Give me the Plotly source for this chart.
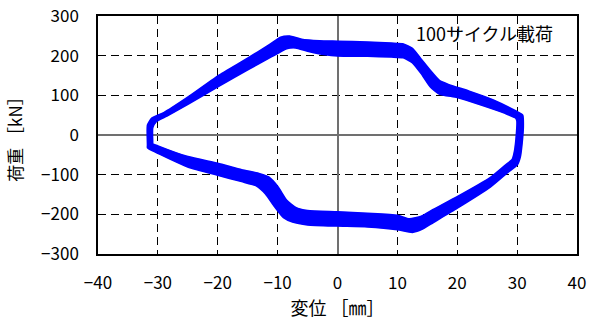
import plotly.graph_objects as go

# Hysteresis loop envelopes (displacement mm, load kN)
outer_x = [-31.7, -31.7, -31.0, -29.0, -25, -20, -15, -11.5, -9.5, -8, -6, -3, 0, 5, 9, 11, 12.5, 14, 15.5, 17, 18.5, 22, 26, 29.8, 30.9, 31.0, 30.8, 30.5, 30.0, 28.5, 25.5, 20, 16, 14, 12.5, 10, 5, 0, -5, -7.5, -9, -10.5, -12, -13.5, -16, -20, -25, -30.5, -31.7, -31.7]
outer_y = [-25, 25, 42, 56, 95, 148, 193, 226, 246, 249, 241, 237, 236, 234, 231, 229, 218, 190, 162, 137, 127, 110, 88, 60, 50, 20, -20, -55, -75, -93, -131, -184, -220, -238, -245, -238, -231, -229, -226, -219, -208, -180, -148, -128, -117, -101, -80, -42, -32, -25]

mid_x = [-31.3, -31.3, -30.6, -28.8, -25, -20, -15, -11.2, -9, -7.5, -5.5, -2.5, 0, 5, 9, 11, 12.5, 14, 15.5, 17, 19, 23, 27, 29.9, 30.5, 30.4, 30.2, 29.9, 29.3, 27.5, 25.5, 20, 16, 14, 12.3, 10, 5, 0, -5, -7.2, -8.8, -10.2, -11.8, -13.2, -16, -20, -25, -30.2, -31.3, -31.3]
mid_y = [-22, 22, 38, 52, 86, 135, 179, 212, 232, 234, 226, 220, 218, 216, 214, 212, 200, 172, 142, 120, 108, 90, 70, 52, 45, 10, -30, -58, -70, -88, -120, -170, -204, -221, -228, -220, -214, -211, -208, -201, -186, -155, -127, -113, -103, -86, -67, -35, -27, -22]

inner_x = [-30.9, -30.9, -30.3, -28.5, -25, -20, -15, -11, -8.5, -7, -5, -2, 0, 5, 9, 11, 12.5, 14, 15.5, 17, 20, 24, 28, 29.8, 30.0, 29.9, 29.6, 29.2, 28, 25.5, 20, 16, 14, 12, 10, 5, 0, -5, -7, -8.5, -10, -11.5, -13, -16, -20, -25, -30, -30.9, -30.9]
inner_y = [-18, 18, 34, 48, 78, 122, 165, 198, 218, 220, 212, 203, 200, 199, 197, 195, 183, 155, 122, 104, 95, 76, 55, 43, 35, 0, -40, -62, -77, -108, -156, -188, -205, -212, -203, -198, -194, -191, -183, -165, -130, -106, -98, -88, -72, -55, -28, -22, -18]

x_ticks = [-40, -30, -20, -10, 0, 10, 20, 30, 40]
y_ticks = [-300, -200, -100, 0, 100, 200, 300]

FONT = "Noto Sans CJK JP"
BLUE = "#0000FF"
SHAPE = dict(shape="spline", smoothing=0.5)

fig = go.Figure()
# band between first and last cycles (outer path then inner path reversed -> ring)
fig.add_trace(go.Scatter(x=outer_x + inner_x[::-1], y=outer_y + inner_y[::-1],
                         mode="lines", fill="toself", fillcolor=BLUE,
                         line=dict(color=BLUE, width=0.5, **SHAPE),
                         showlegend=False, hoverinfo="skip"))
for xs, ys, w in [(outer_x, outer_y, 2), (inner_x, inner_y, 2), (mid_x, mid_y, 1.5)]:
    fig.add_trace(go.Scatter(x=xs, y=ys, mode="lines",
                             line=dict(color=BLUE, width=w, **SHAPE),
                             showlegend=False, hoverinfo="skip"))

fig.add_annotation(x=36.4, y=257, xref="x", yref="y", text="100サイクル載荷",
                   showarrow=False, xanchor="right", yanchor="middle",
                   font=dict(family=FONT, size=18, color="black"))

axis_common = dict(showgrid=True, gridcolor="black", gridwidth=1, griddash="8px,5px",
                   zeroline=True, zerolinecolor="#707070", zerolinewidth=1.5,
                   showline=True, mirror=True, linecolor="black", linewidth=1.5,
                   ticks="", automargin=False,
                   tickfont=dict(family=FONT, size=17, color="black"))

fig.update_xaxes(range=[-40, 40], tickvals=x_ticks, ticklabelstandoff=13,
                 title=dict(text="変位 ［㎜］", font=dict(family=FONT, size=18, color="black"), standoff=2),
                 **axis_common)
fig.update_yaxes(range=[-300, 300], tickvals=y_ticks, ticklabelstandoff=14,
                 title=dict(text="荷重 ［kN］", font=dict(family=FONT, size=17, color="black"), standoff=14),
                 **axis_common)

fig.update_layout(width=590, height=320, margin=dict(l=98, r=13, t=16, b=66),
                  paper_bgcolor="white", plot_bgcolor="white")

fig.write_html("out.html")
